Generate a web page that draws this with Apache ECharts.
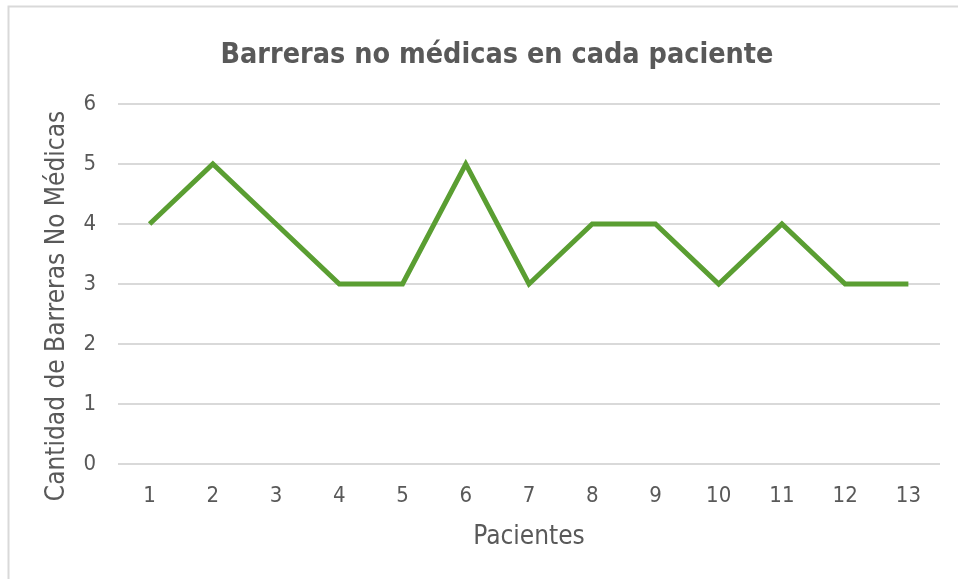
<!DOCTYPE html>
<html><head><meta charset="utf-8">
<script src="https://cdn.jsdelivr.net/npm/echarts@6/dist/echarts.min.js"></script>
<style>html,body{margin:0;padding:0;background:#fff}#c{width:958px;height:579px}</style>
</head><body><div id="c"></div>
<script>
const title = 'Barreras no médicas en cada paciente';
const categories = ['1','2','3','4','5','6','7','8','9','10','11','12','13'];
const values = [4,5,4,3,3,5,3,4,4,3,4,3,3];
const xName = 'Pacientes';
const yName = 'Cantidad de Barreras No Médicas';
const chart = echarts.init(document.getElementById('c'), null, {renderer:'canvas'});
const font = 'DejaVu Sans Condensed';
chart.setOption({
  animation:false,
  backgroundColor:'#fff',
  graphic:[{type:'rect',shape:{x:8.5,y:6.5,width:1000,height:1000},style:{fill:'none',stroke:'#d9d9d9',lineWidth:2},silent:true}],
  title:{text:title,left:492,top:36,textAlign:'center',textStyle:{fontFamily:font,fontWeight:'bold',fontSize:28.5,color:'#595959'}},
  grid:{left:118,right:18,top:104,bottom:115},
  xAxis:{type:'category',data:categories,boundaryGap:true,
    name:xName,nameLocation:'middle',nameGap:60,nameTextStyle:{fontFamily:font,fontSize:26,color:'#595959'},
    axisLine:{show:false},axisTick:{show:false},
    axisLabel:{fontFamily:font,fontSize:22,color:'#595959',margin:21}},
  yAxis:{type:'value',min:0,max:6,interval:1,
    name:yName,nameLocation:'middle',nameGap:48,nameTextStyle:{fontFamily:font,fontSize:26,color:'#595959',padding:[0,44,0,0]},
    axisLine:{show:false},axisTick:{show:false},
    axisLabel:{fontFamily:font,fontSize:22,color:'#595959',margin:22},
    splitLine:{lineStyle:{color:'#d9d9d9',width:2}}},
  series:[{type:'line',data:values,symbol:'none',lineStyle:{color:'#5a9e32',width:5,join:'miter'},itemStyle:{color:'#5a9e32'}}]
});
</script></body></html>
